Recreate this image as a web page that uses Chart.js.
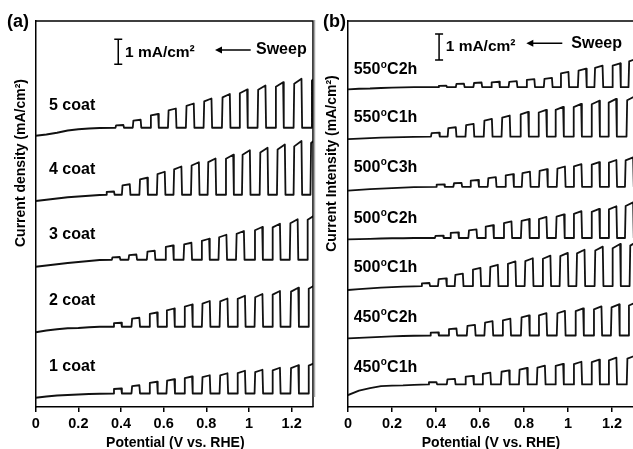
<!DOCTYPE html>
<html><head><meta charset="utf-8">
<script src="https://cdn.jsdelivr.net/npm/chart.js@4.4.1/dist/chart.umd.min.js"></script>
<style>
html,body{margin:0;padding:0;background:#fff;overflow:hidden;width:633px;height:449px}
#ca{position:absolute;left:0;top:0}
#cb{position:absolute;left:316px;top:0}
</style></head><body>
<canvas id="ca" width="316" height="449"></canvas>
<canvas id="cb" width="324" height="449"></canvas>
<script>
// ---------- shared ----------
const potentialTicks = [0, 0.2, 0.4, 0.6, 0.8, 1, 1.2];
const darkV = [0, 0.05, 0.1, 0.15, 0.2, 0.25, 0.3];   // potentials of the dark part before chopping response

// ---------- panel (a) : coats (current density, mA/cm2, stacked) ----------
const coatLabels = ['5 coat', '4 coat', '3 coat', '2 coat', '1 coat'];
const coat5Dark  = [10.85, 10.90, 10.97, 11.06, 11.11, 11.14, 11.16];
const coat5Base  = 11.17;
const coat5On    = [0.374, 0.455, 0.537, 0.620, 0.704, 0.787, 0.873, 0.954, 1.040, 1.123, 1.209, 1.292];
const coat5Photo = [0.11, 0.32, 0.55, 0.77, 0.97, 1.17, 1.35, 1.53, 1.69, 1.82, 1.96, 2.10];

const coat4Dark  = [8.24, 8.29, 8.34, 8.39, 8.42, 8.45, 8.48];
const coat4Base  = 8.49;
const coat4On    = [0.330, 0.404, 0.486, 0.568, 0.646, 0.728, 0.806, 0.889, 0.967, 1.050, 1.131, 1.209, 1.288];
const coat4Photo = [0.13, 0.42, 0.68, 0.92, 1.13, 1.30, 1.45, 1.60, 1.78, 1.88, 2.01, 2.15, 2.30];

const coat3Dark  = [5.61, 5.66, 5.71, 5.76, 5.80, 5.84, 5.88];
const coat3Base  = 5.89;
const coat3On    = [0.357, 0.435, 0.521, 0.607, 0.693, 0.776, 0.857, 0.939, 1.025, 1.108, 1.191, 1.272];
const coat3Photo = [0.11, 0.21, 0.36, 0.57, 0.68, 0.84, 1.00, 1.15, 1.31, 1.44, 1.62, 1.78];

const coat2Dark  = [2.99, 3.06, 3.11, 3.15, 3.16, 3.19, 3.21];
const coat2Base  = 3.21;
const coat2On    = [0.364, 0.449, 0.532, 0.612, 0.696, 0.779, 0.862, 0.944, 1.026, 1.108, 1.194, 1.277];
const coat2Photo = [0.16, 0.36, 0.57, 0.73, 0.89, 1.03, 1.13, 1.24, 1.31, 1.43, 1.56, 1.69];

const coat1Dark  = [0.37, 0.42, 0.46, 0.48, 0.50, 0.52, 0.53];
const coat1Base  = 0.54;
const coat1On    = [0.364, 0.449, 0.532, 0.613, 0.696, 0.779, 0.862, 0.944, 1.026, 1.108, 1.194, 1.277];
const coat1Photo = [0.20, 0.33, 0.47, 0.57, 0.68, 0.73, 0.81, 0.91, 0.95, 1.03, 1.13, 1.24];

// ---------- panel (b) : annealing (current intensity, mA/cm2, stacked) ----------
const annealLabels = ['550ºC2h', '550ºC1h', '500ºC3h', '500ºC2h', '500ºC1h', '450ºC2h', '450ºC1h'];
const a550h2Dark  = [12.22, 12.24, 12.25, 12.27, 12.28, 12.29, 12.30];
const a550h2Base  = 12.30;
const a550h2On    = [0.410, 0.490, 0.570, 0.650, 0.730, 0.810, 0.890, 0.965, 1.045, 1.120, 1.200, 1.275];
const a550h2Photo = [0.06, 0.14, 0.18, 0.21, 0.23, 0.31, 0.36, 0.59, 0.71, 0.83, 0.92, 1.10];

const a550h1Dark  = [10.30, 10.32, 10.34, 10.36, 10.37, 10.38, 10.39];
const a550h1Base  = 10.40;
const a550h1On    = [0.377, 0.453, 0.534, 0.617, 0.698, 0.782, 0.864, 0.941, 1.023, 1.105, 1.182, 1.266];
const a550h1Photo = [0.15, 0.36, 0.49, 0.68, 0.81, 0.95, 1.03, 1.14, 1.26, 1.38, 1.45, 1.55];

const a500h3Dark  = [8.32, 8.35, 8.38, 8.40, 8.42, 8.44, 8.46];
const a500h3Base  = 8.47;
const a500h3On    = [0.400, 0.479, 0.555, 0.635, 0.714, 0.790, 0.868, 0.949, 1.024, 1.105, 1.183, 1.259];
const a500h3Photo = [0.09, 0.15, 0.26, 0.37, 0.49, 0.58, 0.68, 0.78, 0.87, 0.95, 1.03, 1.13];

const a500h2Dark  = [6.45, 6.46, 6.47, 6.48, 6.49, 6.49, 6.50];
const a500h2Base  = 6.50;
const a500h2On    = [0.395, 0.464, 0.547, 0.623, 0.706, 0.786, 0.865, 0.945, 1.024, 1.105, 1.183, 1.259];
const a500h2Photo = [0.09, 0.22, 0.33, 0.49, 0.64, 0.73, 0.81, 0.91, 1.03, 1.12, 1.22, 1.37];

const a500h1Dark  = [4.50, 4.53, 4.56, 4.59, 4.61, 4.63, 4.64];
const a500h1Base  = 4.65;
const a500h1On    = [0.333, 0.409, 0.485, 0.565, 0.644, 0.724, 0.803, 0.883, 0.962, 1.038, 1.121, 1.200, 1.280];
const a500h1Photo = [0.12, 0.30, 0.48, 0.70, 0.82, 0.95, 1.07, 1.17, 1.28, 1.40, 1.52, 1.62, 1.73];

const a450h2Dark  = [2.64, 2.66, 2.68, 2.70, 2.72, 2.73, 2.74];
const a450h2Base  = 2.75;
const a450h2On    = [0.373, 0.456, 0.540, 0.620, 0.701, 0.786, 0.865, 0.949, 1.032, 1.115, 1.195, 1.274];
const a450h2Photo = [0.12, 0.27, 0.41, 0.55, 0.65, 0.77, 0.86, 0.95, 1.04, 1.12, 1.20, 1.28];

const a450h1Dark  = [0.46, 0.63, 0.73, 0.80, 0.82, 0.83, 0.85];
const a450h1Base  = 0.87;
const a450h1On    = [0.365, 0.449, 0.532, 0.610, 0.695, 0.777, 0.858, 0.941, 1.024, 1.105, 1.183, 1.267];
const a450h1Photo = [0.09, 0.21, 0.33, 0.45, 0.54, 0.63, 0.72, 0.79, 0.87, 0.95, 1.03, 1.10];

// ---------- building the traces ----------
const LIGHT_ON = 0.04;   // duration of each light pulse (V)
const EDGE = 0.003;      // rise / fall width (V)
function trace(dark, base, on, photo) {
  const pts = darkV.map((v, i) => ({x: v, y: dark[i]}));
  on.forEach((v, i) => {
    const h = photo[i];
    pts.push({x: v, y: base},
             {x: v + EDGE, y: base + 0.9 * h},
             {x: v + LIGHT_ON - EDGE, y: base + h},
             {x: v + LIGHT_ON, y: base});
  });
  return pts;
}
const tracesA = [
  trace(coat5Dark, coat5Base, coat5On, coat5Photo),
  trace(coat4Dark, coat4Base, coat4On, coat4Photo),
  trace(coat3Dark, coat3Base, coat3On, coat3Photo),
  trace(coat2Dark, coat2Base, coat2On, coat2Photo),
  trace(coat1Dark, coat1Base, coat1On, coat1Photo)
];
const tracesB = [
  trace(a550h2Dark, a550h2Base, a550h2On, a550h2Photo),
  trace(a550h1Dark, a550h1Base, a550h1On, a550h1Photo),
  trace(a500h3Dark, a500h3Base, a500h3On, a500h3Photo),
  trace(a500h2Dark, a500h2Base, a500h2On, a500h2Photo),
  trace(a500h1Dark, a500h1Base, a500h1On, a500h1Photo),
  trace(a450h2Dark, a450h2Base, a450h2On, a450h2Photo),
  trace(a450h1Dark, a450h1Base, a450h1On, a450h1Photo)
];

// ---------- layout / decoration (pixels, canvas-local) ----------
const FONT = "'Liberation Sans', Arial, Helvetica, sans-serif";
const deco = {
  ca: {
    panel: '(a)', yTitle: 'Current density (mA/cm²)', yTitleX: 21.5, yTitleY: 163,
    labels: coatLabels, labelX: 49, labelY: [109.5, 174, 239.3, 304.5, 371],
    barV: 0.387, barI: 13.71, unitX: 125, unitY: 57.3,
    arrowHead: 215, arrowTail: 250.7, arrowY: 50, sweepX: 256, sweepY: 54.3,
    separator: 314.5
  },
  cb: {
    panel: '(b)', yTitle: 'Current Intensity (mA/cm²)', yTitleX: 16.5, yTitleY: 163.5,
    labels: annealLabels, labelX: 37.7, labelY: [74, 122.3, 171.7, 222.7, 272.3, 321.7, 371.7],
    barV: 0.414, barI: 13.35, unitX: 129.7, unitY: 50.7,
    arrowHead: 210.3, arrowTail: 246.3, arrowY: 43.3, sweepX: 255.3, sweepY: 48.3,
    separator: null
  }
};

function drawLabel(ctx, text, x, y) {
  const parts = text.split('º');
  ctx.font = 'bold 16px ' + FONT;
  ctx.fillText(parts[0], x, y);
  if (parts.length < 2) return;
  let cx = x + ctx.measureText(parts[0]).width;
  ctx.font = 'bold 10px ' + FONT;
  ctx.fillText('o', cx + 0.3, y - 6.3);
  cx += ctx.measureText('o').width + 0.6;
  ctx.font = 'bold 16px ' + FONT;
  ctx.fillText(parts[1], cx, y);
}

const annotPlugin = {
  id: 'annot',
  afterDraw(chart) {
    const d = deco[chart.canvas.id];
    const ctx = chart.ctx;
    const {left, top, right, bottom} = chart.chartArea;
    const xs = chart.scales.x, ys = chart.scales.y;
    ctx.save();
    ctx.strokeStyle = '#000'; ctx.fillStyle = '#000'; ctx.lineWidth = 1.5;
    // frame (top and right)
    ctx.beginPath(); ctx.moveTo(left, top); ctx.lineTo(right, top); ctx.lineTo(right, bottom); ctx.stroke();
    // separator
    if (d.separator) {
      ctx.save(); ctx.strokeStyle = '#a8a8a8'; ctx.lineWidth = 1.5;
      ctx.beginPath(); ctx.moveTo(d.separator, 20); ctx.lineTo(d.separator, 397); ctx.stroke();
      ctx.restore();
    }
    ctx.textAlign = 'left'; ctx.textBaseline = 'alphabetic';
    // panel letter
    ctx.font = 'bold 18px ' + FONT;
    ctx.fillText(d.panel, 7, 27);
    // curve labels
    d.labels.forEach((t, i) => drawLabel(ctx, t, d.labelX, d.labelY[i]));
    // scale bar = 1 mA/cm2
    const bx = xs.getPixelForValue(d.barV);
    const b0 = ys.getPixelForValue(d.barI), b1 = ys.getPixelForValue(d.barI + 1);
    ctx.beginPath();
    ctx.moveTo(bx, b0); ctx.lineTo(bx, b1);
    ctx.moveTo(bx - 4, b0); ctx.lineTo(bx + 4, b0);
    ctx.moveTo(bx - 4, b1); ctx.lineTo(bx + 4, b1);
    ctx.stroke();
    ctx.font = 'bold 15.5px ' + FONT;
    ctx.fillText('1 mA/cm²', d.unitX, d.unitY);
    // sweep arrow
    ctx.beginPath(); ctx.moveTo(d.arrowTail, d.arrowY); ctx.lineTo(d.arrowHead + 4, d.arrowY); ctx.stroke();
    ctx.beginPath();
    ctx.moveTo(d.arrowHead, d.arrowY);
    ctx.lineTo(d.arrowHead + 7, d.arrowY - 3.5);
    ctx.lineTo(d.arrowHead + 7, d.arrowY + 3.5);
    ctx.closePath(); ctx.fill();
    ctx.font = 'bold 16px ' + FONT;
    ctx.fillText('Sweep', d.sweepX, d.sweepY);
    // axis titles
    ctx.font = 'bold 14px ' + FONT;
    ctx.textAlign = 'center';
    ctx.fillText('Potential (V vs. RHE)', (left + right) / 2 + (chart.canvas.id === 'ca' ? 1 : 0), 446.5);
    ctx.save();
    ctx.translate(d.yTitleX, d.yTitleY);
    ctx.rotate(-Math.PI / 2);
    ctx.textBaseline = 'middle';
    ctx.fillText(d.yTitle, 0, 0);
    ctx.restore();
    ctx.restore();
  }
};

function makeChart(id, traces, yMax, yAxisWidth, padRight) {
  new Chart(document.getElementById(id), {
    type: 'line',
    data: {
      datasets: traces.map(t => ({
        data: t, borderColor: '#111', borderWidth: 1.8, pointRadius: 0,
        tension: 0, fill: false, borderJoinStyle: 'round', borderCapStyle: 'round'
      }))
    },
    options: {
      responsive: false, animation: false, events: [],
      layout: {padding: {left: 0, top: 21, right: padRight, bottom: 0}},
      plugins: {legend: {display: false}, tooltip: {enabled: false}},
      scales: {
        x: {
          type: 'linear', min: 0, max: 1.3,
          afterBuildTicks: s => { s.ticks = potentialTicks.map(v => ({value: v})); },
          afterFit: s => { s.height = 42; },
          grid: {display: true, drawOnChartArea: false, drawTicks: true, tickLength: 5, color: '#000', lineWidth: 1.5},
          border: {display: true, color: '#000', width: 1.5},
          ticks: {color: '#000', padding: 3, maxRotation: 0, autoSkip: false,
                  font: {family: FONT, size: 14.5, weight: 'bold'},
                  callback: v => String(v)}
        },
        y: {
          type: 'linear', min: 0, max: yMax,
          afterFit: s => { s.width = yAxisWidth; },
          grid: {display: false},
          border: {display: true, color: '#000', width: 1.5},
          ticks: {display: false}
        }
      }
    },
    plugins: [annotPlugin]
  });
}
makeChart('ca', tracesA, 386 / 25, 35.7, 3);
makeChart('cb', tracesB, 386 / 26, 32, 6);
</script>
</body></html>
